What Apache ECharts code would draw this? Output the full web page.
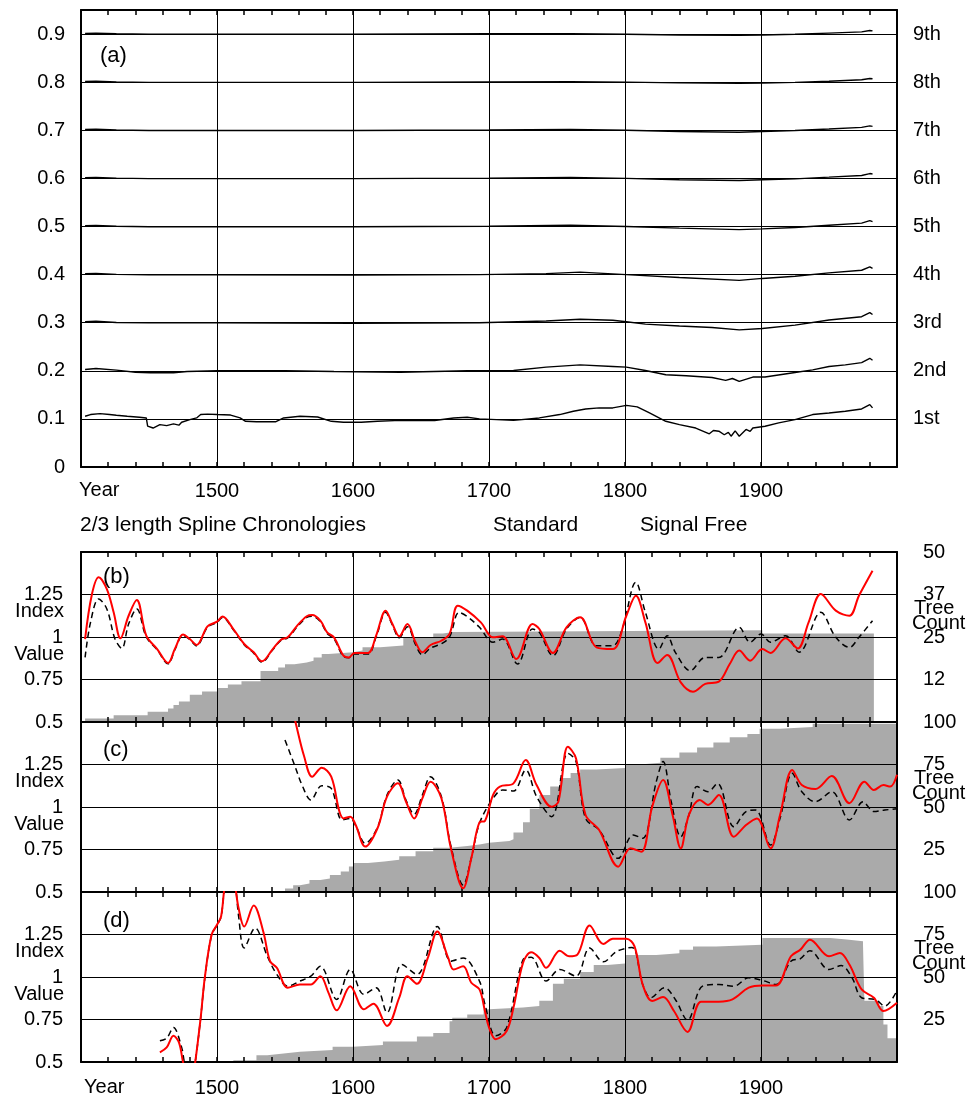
<!DOCTYPE html>
<html>
<head>
<meta charset="utf-8">
<script src="https://cdn.jsdelivr.net/npm/echarts@6/dist/echarts.min.js"></script>
<style>
html,body{margin:0;padding:0;background:#fff;}
#chart{width:971px;height:1100px;}
</style>
</head>
<body>
<div id="chart"></div>
<script>
// ---------- DATA ----------
// Panel (a): 2/3 length spline chronologies, offset by order (1st..9th)
const a1 = [[1403,0.1055],[1407,0.109],[1414,0.111],[1421,0.109],[1426,0.1076],[1434,0.1055],[1443,0.1035],[1448,0.102],[1449,0.085],[1453,0.081],[1458,0.088],[1463,0.086],[1468,0.0896],[1472,0.087],[1474,0.093],[1480,0.0986],[1485,0.102],[1488,0.109],[1493,0.110],[1500,0.109],[1510,0.108],[1517,0.102],[1521,0.095],[1529,0.094],[1543,0.094],[1549,0.102],[1561,0.1055],[1574,0.104],[1584,0.095],[1593,0.093],[1606,0.093],[1618,0.095],[1635,0.097],[1660,0.0966],[1674,0.102],[1684,0.1035],[1693,0.1],[1718,0.097],[1737,0.102],[1752,0.109],[1762,0.116],[1771,0.1207],[1781,0.1228],[1791,0.1228],[1801,0.128],[1809,0.125],[1818,0.1124],[1830,0.095],[1840,0.088],[1852,0.081],[1862,0.069],[1865,0.076],[1869,0.0744],[1873,0.067],[1876,0.072],[1878,0.064],[1881,0.075],[1884,0.064],[1889,0.078],[1892,0.074],[1894,0.081],[1903,0.0848],[1913,0.0917],[1925,0.0986],[1938,0.109],[1950,0.1124],[1962,0.116],[1974,0.1207],[1980,0.1297],[1982,0.123]];
const a2 = [[1403,0.2028],[1411,0.2048],[1426,0.2014],[1440,0.197],[1451,0.1959],[1468,0.196],[1478,0.1986],[1500,0.2],[1550,0.2],[1586,0.1986],[1635,0.197],[1684,0.2],[1718,0.2007],[1742,0.2076],[1767,0.2124],[1791,0.209],[1801,0.2076],[1815,0.2007],[1830,0.1917],[1845,0.1896],[1864,0.186],[1874,0.18],[1879,0.184],[1884,0.178],[1894,0.187],[1903,0.187],[1925,0.1965],[1938,0.202],[1950,0.209],[1962,0.2124],[1974,0.217],[1980,0.226],[1982,0.222]];
const a3 = [[1403,0.302],[1411,0.303],[1426,0.3005],[1450,0.2995],[1500,0.2995],[1600,0.2985],[1693,0.3],[1742,0.3035],[1767,0.307],[1791,0.305],[1801,0.302],[1815,0.297],[1840,0.293],[1864,0.29],[1884,0.285],[1901,0.288],[1925,0.295],[1950,0.3055],[1974,0.3124],[1980,0.321],[1982,0.317]];
const a4 = [[1403,0.402],[1411,0.4025],[1426,0.4005],[1450,0.3995],[1500,0.3995],[1600,0.399],[1693,0.4],[1742,0.402],[1767,0.405],[1801,0.4],[1840,0.394],[1884,0.388],[1901,0.392],[1925,0.3965],[1950,0.4035],[1974,0.409],[1980,0.416],[1982,0.413]];
const a5 = [[1403,0.5015],[1411,0.502],[1426,0.5005],[1450,0.4995],[1600,0.4995],[1700,0.5005],[1760,0.5025],[1801,0.5],[1840,0.4965],[1884,0.4935],[1901,0.495],[1925,0.498],[1950,0.5025],[1974,0.507],[1980,0.512],[1982,0.51]];
const a6 = [[1403,0.6015],[1411,0.602],[1426,0.6005],[1450,0.5995],[1600,0.5995],[1700,0.6005],[1760,0.602],[1801,0.6],[1840,0.597],[1884,0.5955],[1901,0.597],[1925,0.599],[1950,0.6025],[1974,0.606],[1980,0.61],[1982,0.609]];
const a7 = [[1403,0.7015],[1411,0.702],[1426,0.7005],[1450,0.6995],[1600,0.6995],[1700,0.7005],[1760,0.7015],[1801,0.7],[1840,0.6975],[1884,0.696],[1901,0.6975],[1925,0.6995],[1950,0.7025],[1974,0.706],[1980,0.709],[1982,0.708]];
const a8 = [[1403,0.8015],[1411,0.802],[1426,0.8005],[1450,0.7995],[1600,0.7995],[1700,0.8005],[1760,0.801],[1801,0.8],[1840,0.7985],[1884,0.7975],[1901,0.798],[1925,0.7995],[1950,0.802],[1974,0.805],[1980,0.8075],[1982,0.807]];
const a9 = [[1403,0.9015],[1411,0.902],[1426,0.9005],[1450,0.8995],[1600,0.8995],[1700,0.9005],[1760,0.9008],[1801,0.8995],[1840,0.898],[1884,0.8975],[1901,0.898],[1925,0.8995],[1950,0.902],[1974,0.9045],[1980,0.9075],[1982,0.9065]];
const orderLabels = ['', '1st', '2nd', '3rd', '4th', '5th', '6th', '7th', '8th', '9th'];

// Panel (b)
const bCount = [[1403,1],[1424,2],[1449,3],[1464,4],[1468,5],[1472,6],[1480,8],[1489,9],[1500,10],[1508,11],[1518,12],[1532,15],[1545,16],[1550,17],[1557,17.5],[1566,18],[1571,19],[1577,20],[1582,20.5],[1600,21],[1607,22],[1620,22.5],[1637,25],[1659,26],[1666,26.5],[1674,27],[1901,26],[1983,26]];
const bSF = [[1403,0.988],[1408,1.25],[1413,1.351],[1419,1.282],[1424,1.145],[1429,0.992],[1435,1.125],[1441,1.218],[1448,1.008],[1456,0.929],[1464,0.847],[1469,0.929],[1475,1.014],[1480,0.988],[1485,0.953],[1493,1.063],[1500,1.09],[1504,1.12],[1512,1.047],[1520,0.959],[1527,0.91],[1533,0.857],[1541,0.929],[1547,0.984],[1552,0.998],[1559,1.067],[1566,1.122],[1570,1.129],[1576,1.096],[1581,1.027],[1586,0.998],[1593,0.89],[1597,0.88],[1601,0.906],[1611,0.906],[1617,1.008],[1624,1.155],[1629,1.076],[1634,1.004],[1640,1.076],[1646,0.969],[1651,0.91],[1657,0.953],[1665,0.978],[1671,1.018],[1677,1.184],[1684,1.155],[1694,1.086],[1703,0.998],[1710,1.004],[1720,0.871],[1732,1.076],[1737,1.047],[1747,0.906],[1757,1.057],[1767,1.116],[1779,0.939],[1791,0.929],[1801,1.125],[1808,1.243],[1815,1.086],[1824,0.847],[1831,0.894],[1841,0.733],[1850,0.678],[1859,0.724],[1869,0.737],[1877,0.841],[1884,0.92],[1892,0.861],[1901,0.929],[1907,0.906],[1918,0.992],[1927,0.933],[1935,1.086],[1944,1.253],[1955,1.155],[1965,1.125],[1972,1.243],[1982,1.39]];
const bStd = [[1403,0.88],[1407,1.086],[1413,1.224],[1419,1.165],[1425,0.988],[1430,0.933],[1435,1.076],[1441,1.165],[1448,1.0],[1456,0.925],[1464,0.842],[1469,0.925],[1475,1.01],[1480,0.985],[1485,0.948],[1493,1.058],[1500,1.085],[1504,1.115],[1512,1.043],[1520,0.955],[1527,0.905],[1533,0.852],[1541,0.925],[1547,0.98],[1552,0.995],[1559,1.06],[1566,1.115],[1570,1.122],[1576,1.09],[1581,1.02],[1586,0.99],[1593,0.885],[1597,0.878],[1601,0.9],[1611,0.9],[1617,1.0],[1624,1.145],[1629,1.07],[1634,0.995],[1640,1.06],[1646,0.955],[1651,0.895],[1657,0.935],[1665,0.96],[1671,1.0],[1678,1.145],[1684,1.12],[1693,1.057],[1703,0.969],[1710,0.988],[1721,0.841],[1732,1.047],[1737,1.027],[1747,0.89],[1757,1.047],[1767,1.116],[1779,0.949],[1791,0.949],[1798,1.047],[1808,1.322],[1815,1.145],[1825,0.929],[1831,1.008],[1837,0.91],[1848,0.802],[1859,0.88],[1869,0.88],[1884,1.057],[1892,0.969],[1900,1.018],[1907,0.969],[1918,1.008],[1928,0.91],[1944,1.145],[1955,0.998],[1965,0.939],[1972,0.998],[1982,1.096]];

// Panel (c)
const cCount = [[1550,2],[1556,4],[1561,5],[1568,7],[1576,8],[1583,10],[1591,12],[1597,15],[1600,17],[1611,18],[1623,19],[1634,21],[1646,24],[1659,26],[1671,27],[1684,28],[1693,29],[1700,30],[1715,31],[1718,35],[1725,41],[1730,49],[1737,57],[1745,62],[1752,67],[1760,70],[1767,72],[1779,73],[1800,75],[1811,76],[1826,79],[1840,82],[1853,85],[1865,88],[1877,91],[1890,93],[1899,96],[1914,97],[1938,99],[2000,99]];
const cSF = [[1556,1.56],[1558,1.49],[1564,1.3],[1570,1.178],[1577,1.231],[1584,1.178],[1590,0.973],[1593,0.933],[1598,0.943],[1602,0.894],[1609,0.767],[1618,0.875],[1625,1.061],[1633,1.139],[1639,1.031],[1645,0.933],[1651,1.051],[1657,1.149],[1665,1.051],[1672,0.757],[1681,0.522],[1687,0.698],[1693,0.91],[1697,0.918],[1703,1.071],[1708,1.12],[1718,1.139],[1727,1.276],[1735,1.129],[1746,1.002],[1751,1.031],[1758,1.355],[1764,1.286],[1771,0.953],[1781,0.865],[1795,0.649],[1804,0.757],[1812,0.737],[1820,1.002],[1828,1.159],[1835,0.953],[1841,0.757],[1847,0.953],[1855,1.041],[1861,1.012],[1869,1.071],[1880,0.825],[1889,0.894],[1897,0.933],[1907,0.757],[1914,0.953],[1923,1.218],[1930,1.129],[1940,1.106],[1952,1.182],[1965,1.022],[1976,1.149],[1983,1.1],[1990,1.129],[1995,1.12],[2000,1.19]];
const cStd = [[1550,1.394],[1557,1.247],[1563,1.12],[1569,1.041],[1577,1.125],[1584,1.11],[1592,0.924],[1598,0.933],[1602,0.89],[1609,0.786],[1618,0.88],[1625,1.07],[1633,1.159],[1639,1.04],[1645,0.957],[1651,1.07],[1657,1.178],[1665,1.06],[1672,0.77],[1681,0.541],[1687,0.7],[1693,0.904],[1703,1.051],[1710,1.1],[1718,1.094],[1727,1.218],[1735,1.061],[1746,0.943],[1758,1.316],[1764,1.267],[1771,0.933],[1781,0.865],[1795,0.698],[1806,0.835],[1813,0.816],[1823,1.149],[1828,1.267],[1834,1.031],[1841,0.825],[1847,0.953],[1853,1.12],[1861,1.09],[1868,1.139],[1880,0.884],[1889,0.973],[1896,0.982],[1907,0.776],[1914,0.933],[1923,1.198],[1930,1.09],[1940,1.031],[1952,1.09],[1965,0.924],[1975,1.031],[1983,0.973],[1991,0.982],[2000,0.99]];

// Panel (d)
const dCount = [[1512,1],[1529,4],[1537,5],[1549,6],[1561,7],[1585,9],[1600,10],[1622,12],[1647,15],[1659,17],[1671,24],[1673,26],[1684,28],[1696,31],[1700,32],[1725,33],[1737,36],[1747,46],[1755,49],[1767,53],[1777,57],[1787,58],[1800,63],[1823,64],[1840,66],[1850,68],[1867,69],[1901,73],[1941,73],[1951,72],[1963,71],[1975,69],[1976,36],[1987,33],[1990,22],[1993,14],[2000,14]];
const dSF = [[1458,0.557],[1463,0.586],[1468,0.654],[1472,0.615],[1475,0.5],[1478,0.4],[1482,0.42],[1484,0.5],[1488,0.761],[1491,0.995],[1496,1.249],[1500,1.307],[1503,1.356],[1506,1.55],[1510,1.65],[1513,1.55],[1516,1.4],[1520,1.297],[1527,1.42],[1534,1.268],[1539,1.093],[1544,1.054],[1552,0.937],[1561,0.956],[1569,0.956],[1576,1.005],[1582,0.907],[1588,0.804],[1598,0.946],[1608,0.81],[1615,0.843],[1625,0.712],[1634,0.878],[1640,1.005],[1647,0.96],[1655,1.112],[1662,1.268],[1670,1.112],[1674,1.044],[1681,1.063],[1687,0.966],[1693,0.927],[1697,0.8],[1700,0.703],[1705,0.634],[1713,0.683],[1718,0.82],[1725,1.083],[1731,1.145],[1737,1.112],[1742,1.054],[1752,1.155],[1759,1.122],[1765,1.132],[1774,1.303],[1784,1.194],[1791,1.225],[1801,1.225],[1807,1.18],[1813,0.956],[1820,0.859],[1828,0.882],[1836,0.8],[1846,0.677],[1856,0.855],[1869,0.855],[1879,0.868],[1891,0.937],[1901,0.95],[1911,0.95],[1922,1.122],[1929,1.161],[1936,1.219],[1950,1.122],[1958,1.141],[1965,1.073],[1974,0.927],[1983,0.878],[1990,0.8],[2000,0.849]];
const dStd = [[1458,0.625],[1463,0.64],[1468,0.703],[1474,0.586],[1476,0.5],[1479,0.42],[1482,0.43],[1484,0.5],[1488,0.76],[1491,0.99],[1496,1.245],[1500,1.305],[1503,1.355],[1506,1.55],[1510,1.66],[1513,1.58],[1516,1.35],[1520,1.171],[1528,1.288],[1537,1.122],[1544,1.015],[1552,0.946],[1561,0.976],[1569,1.005],[1576,1.063],[1588,0.868],[1598,1.044],[1608,0.898],[1617,0.937],[1625,0.79],[1636,1.073],[1647,1.015],[1662,1.297],[1672,1.093],[1681,1.112],[1693,0.976],[1697,0.839],[1705,0.654],[1713,0.703],[1725,1.102],[1731,1.116],[1742,0.976],[1752,1.044],[1764,1.005],[1774,1.171],[1784,1.089],[1794,1.151],[1805,1.174],[1813,0.956],[1819,0.878],[1829,0.937],[1837,0.868],[1846,0.746],[1857,0.946],[1869,0.956],[1880,0.946],[1891,0.995],[1901,0.98],[1911,0.956],[1922,1.093],[1929,1.108],[1936,1.155],[1950,1.044],[1959,1.067],[1967,0.995],[1974,0.878],[1984,0.868],[1991,0.829],[2000,0.921]];

// ---------- LAYOUT ----------
const FONT = '"Liberation Sans", Arial, Helvetica, sans-serif';
const L = 81, W = 816;
const grids = [
  {top: 10, height: 457},
  {top: 552, height: 170},
  {top: 722, height: 170},
  {top: 892, height: 170}
];

const chart = echarts.init(document.getElementById('chart'), null, {renderer: 'canvas'});

const mkAxisLine = () => ({show: true, onZero: false, lineStyle: {color: '#000', width: 2}});
const mkGridLine = () => ({show: true, lineStyle: {color: '#000', width: 1}});

function makeX(gi, pos, showLabels, margin) {
  return {
    type: 'value', gridIndex: gi, position: pos, min: 1400, max: 2000, interval: 100,
    z: 2,
    axisLine: mkAxisLine(),
    axisTick: {show: false},
    splitLine: pos === 'bottom' ? mkGridLine() : {show: false},
    axisLabel: {
      show: showLabels, margin: margin || 14, fontSize: 20, fontFamily: FONT, color: '#000',
      formatter: v => (v === 1400 || v === 2000) ? '' : String(v)
    }
  };
}
// helper axes that only carry the 20-year inward tick marks
function tickX(gi, pos) {
  return {
    type: 'value', gridIndex: gi, position: pos, min: 1400, max: 2000, interval: 20, z: 2,
    axisLine: {show: false, onZero: false},
    axisTick: {show: true, inside: true, length: 5, lineStyle: {color: '#000', width: 1.5}},
    axisLabel: {show: false}, splitLine: {show: false}
  };
}

const xAxes = [];
grids.forEach((g, i) => {
  const labels = (i === 0 || i === 3);
  xAxes.push(makeX(i, 'bottom', labels, i === 0 ? 14 : 16));
  xAxes.push(makeX(i, 'top', false));
});
grids.forEach((g, i) => {
  xAxes.push(tickX(i, 'bottom'));
  xAxes.push(tickX(i, 'top'));
});

const idxFmt = v => (v === 1.5 ? '' : String(v));
function leftIdx(gi) {
  return {
    type: 'value', gridIndex: gi, position: 'left', min: 0.5, max: 1.5, interval: 0.25, z: 2,
    axisLine: mkAxisLine(), axisTick: {show: false}, splitLine: mkGridLine(),
    axisLabel: {margin: 18, fontSize: 20, fontFamily: FONT, color: '#000', formatter: idxFmt}
  };
}
function rightCount(gi, max, interval, floorLabels) {
  return {
    type: 'value', gridIndex: gi, position: 'right', min: 0, max: max, interval: interval, z: 2,
    axisLine: mkAxisLine(), axisTick: {show: false}, splitLine: {show: false},
    axisLabel: {margin: 26, fontSize: 20, fontFamily: FONT, color: '#000',
      formatter: v => v === 0 ? '' : String(floorLabels ? Math.floor(v) : v)}
  };
}

const yAxes = [
  {
    type: 'value', gridIndex: 0, position: 'left', min: 0, max: 0.95, interval: 0.1, z: 2,
    axisLine: mkAxisLine(), axisTick: {show: false}, splitLine: mkGridLine(),
    axisLabel: {margin: 16, fontSize: 20, fontFamily: FONT, color: '#000',
      formatter: v => v === 0 ? '0' : (Math.abs(v - 0.95) < 1e-6 ? '' : v.toFixed(1))}
  },
  {
    type: 'value', gridIndex: 0, position: 'right', min: 0, max: 0.95, interval: 0.1, z: 2,
    axisLine: mkAxisLine(), axisTick: {show: false}, splitLine: {show: false},
    axisLabel: {margin: 16, fontSize: 20, fontFamily: FONT, color: '#000',
      formatter: v => orderLabels[Math.round(v * 10)] || ''}
  },
  leftIdx(1), rightCount(1, 50, 12.5, true),
  leftIdx(2), rightCount(2, 100, 25, false),
  leftIdx(3), rightCount(3, 100, 25, false)
];

const series = [];
[a1, a2, a3, a4, a5, a6, a7, a8, a9].forEach(d => {
  series.push({type: 'line', xAxisIndex: 0, yAxisIndex: 0, data: d, symbol: 'none', z: 3,
    lineStyle: {color: '#000', width: 1.4}});
});

function panelSeries(gi, count, std, sf) {
  const xi = gi * 2, yl = gi * 2, yr = gi * 2 + 1;
  series.push({type: 'line', xAxisIndex: xi, yAxisIndex: yr, data: count, step: 'end', symbol: 'none', z: 1,
    lineStyle: {width: 0}, areaStyle: {color: '#aaaaaa', opacity: 1}, itemStyle: {color: '#aaaaaa'}});
  series.push({type: 'line', xAxisIndex: xi, yAxisIndex: yl, data: std, symbol: 'none', smooth: 0.35, z: 3,
    lineStyle: {color: '#000', width: 1.5, type: [6, 4]}});
  series.push({type: 'line', xAxisIndex: xi, yAxisIndex: yl, data: sf, symbol: 'none', smooth: 0.35, z: 4,
    lineStyle: {color: '#ff0000', width: 2}});
}
panelSeries(1, bCount, bStd, bSF);
panelSeries(2, cCount, cStd, cSF);
panelSeries(3, dCount, dStd, dSF);

// text annotations (panel tags, axis titles, legend)
const txt = (text, left, top, size) => ({
  type: 'text', left: left, top: top, silent: true, z: 20,
  style: {text: text, font: size + 'px ' + FONT, fill: '#000'}
});
const rtxt = (text, right, top, size) => ({
  type: 'text', right: right, top: top, silent: true, z: 20,
  style: {text: text, font: size + 'px ' + FONT, fill: '#000', textAlign: 'right'}
});

const graphics = [
  txt('(a)', 100, 45, 22), txt('(b)', 103, 566, 22), txt('(c)', 103, 739, 22), txt('(d)', 103, 910, 22),
  txt('Year', 79, 480, 20), txt('Year', 84, 1077, 20),
  txt('2/3 length Spline Chronologies', 80, 515, 21),
  txt('Standard', 493, 515, 21),
  txt('Signal Free', 640, 515, 21)
];
// Index / Value and Tree Count labels for panels b, c, d
grids.slice(1).forEach(g => {
  const yTick = v => g.top + g.height - (v - 0.5) / 1.0 * g.height;
  const idxC = (yTick(1.25) + yTick(1)) / 2 - 3;
  const valC = (yTick(1) + yTick(0.75)) / 2 - 3;
  graphics.push(rtxt('Index', 971 - 64, idxC - 11, 20));
  graphics.push(rtxt('Value', 971 - 64, valC - 11, 20));
  const treeC = yTick(1.125) - 6;
  graphics.push(txt('Tree', 914, treeC - 11, 20));
  graphics.push(txt('Count', 912, treeC + 4, 20));
});

chart.setOption({
  animation: false,
  backgroundColor: '#fff',
  grid: grids.map(g => ({left: L, width: W, top: g.top, height: g.height, containLabel: false, show: false})),
  xAxis: xAxes,
  yAxis: yAxes,
  series: series,
  graphic: graphics
});
</script>
</body>
</html>
